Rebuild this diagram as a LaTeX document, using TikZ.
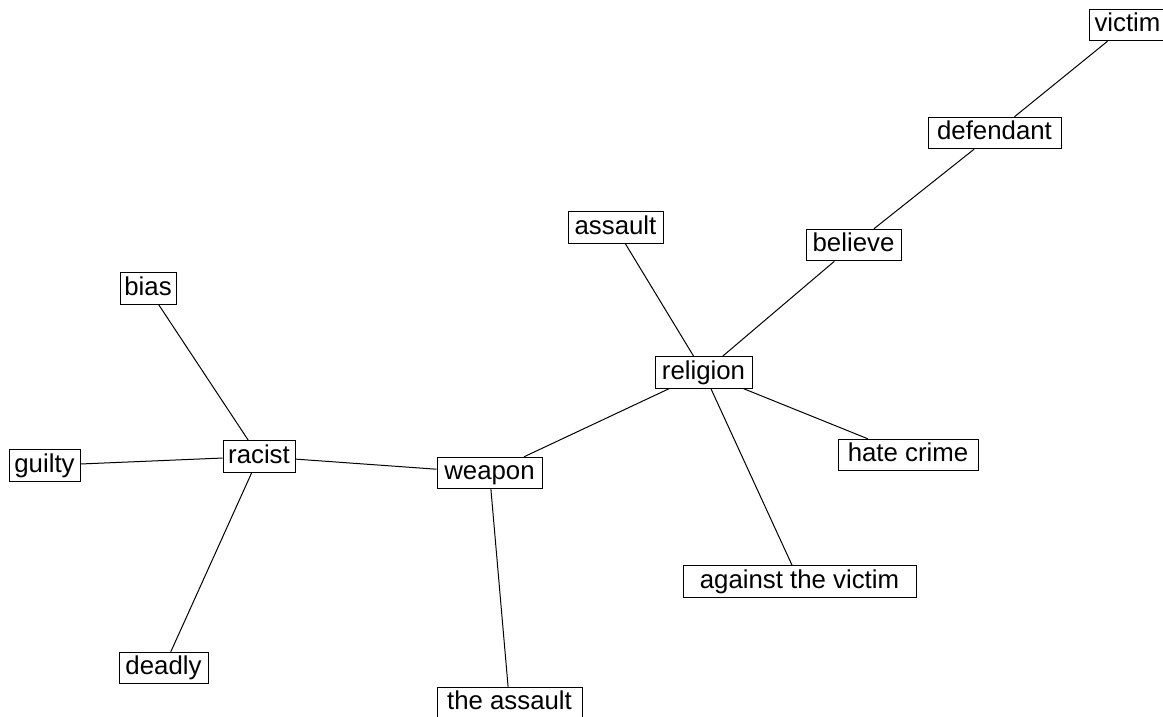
\documentclass[tikz,border=0pt]{standalone}
\usepackage{fontspec}
\setmainfont{Liberation Sans}
\begin{document}
\begin{tikzpicture}[x=1pt,y=-1pt,
  word/.style={draw=black,line width=1pt,fill=white,inner xsep=0pt,inner ysep=0pt,
    text height=22.5pt,text depth=9pt,font=\fontsize{25.8}{30}\selectfont},
  link/.style={draw=black,line width=1pt}]
\useasboundingbox (0,0) rectangle (1163,717);
\clip (0,0) rectangle (1163,717);
\node[word,minimum width=77pt]  (victim)    at (1127.5,25)  {victim};
\node[word,minimum width=133pt] (defendant) at (994.5,133)  {defendant};
\node[word,minimum width=95pt]  (believe)   at (853.5,245)  {believe};
\node[word,minimum width=95pt]  (assault)   at (615.5,227.5) {assault};
\node[word,minimum width=97pt]  (religion)  at (703.5,372.5) {religion};
\node[word,minimum width=140pt] (hate)      at (908,455)    {hate crime};
\node[word,minimum width=233pt] (against)   at (799.5,581.5) {against the victim};
\node[word,minimum width=56pt]  (bias)      at (148,288.5)  {bias};
\node[word,minimum width=71pt]  (guilty)    at (44.5,465.5) {guilty};
\node[word,minimum width=72pt]  (racist)    at (259,456.5)  {racist};
\node[word,minimum width=105pt] (weapon)    at (489.5,473)  {weapon};
\node[word,minimum width=89pt]  (deadly)    at (163.5,668)  {deadly};
\node[word,minimum width=145pt] (theassault) at (509.5,703) {the assault};
\path[link] (victim) -- (defendant);
\path[link] (defendant) -- (believe);
\path[link] (believe) -- (religion);
\path[link] (assault) -- (religion);
\path[link] (religion) -- (hate);
\path[link] (religion) -- (against);
\path[link] (religion) -- (weapon);
\path[link] (weapon) -- (racist);
\path[link] (weapon) -- (theassault);
\path[link] (racist) -- (bias);
\path[link] (racist) -- (guilty);
\path[link] (racist) -- (deadly);
\end{tikzpicture}
\end{document}
